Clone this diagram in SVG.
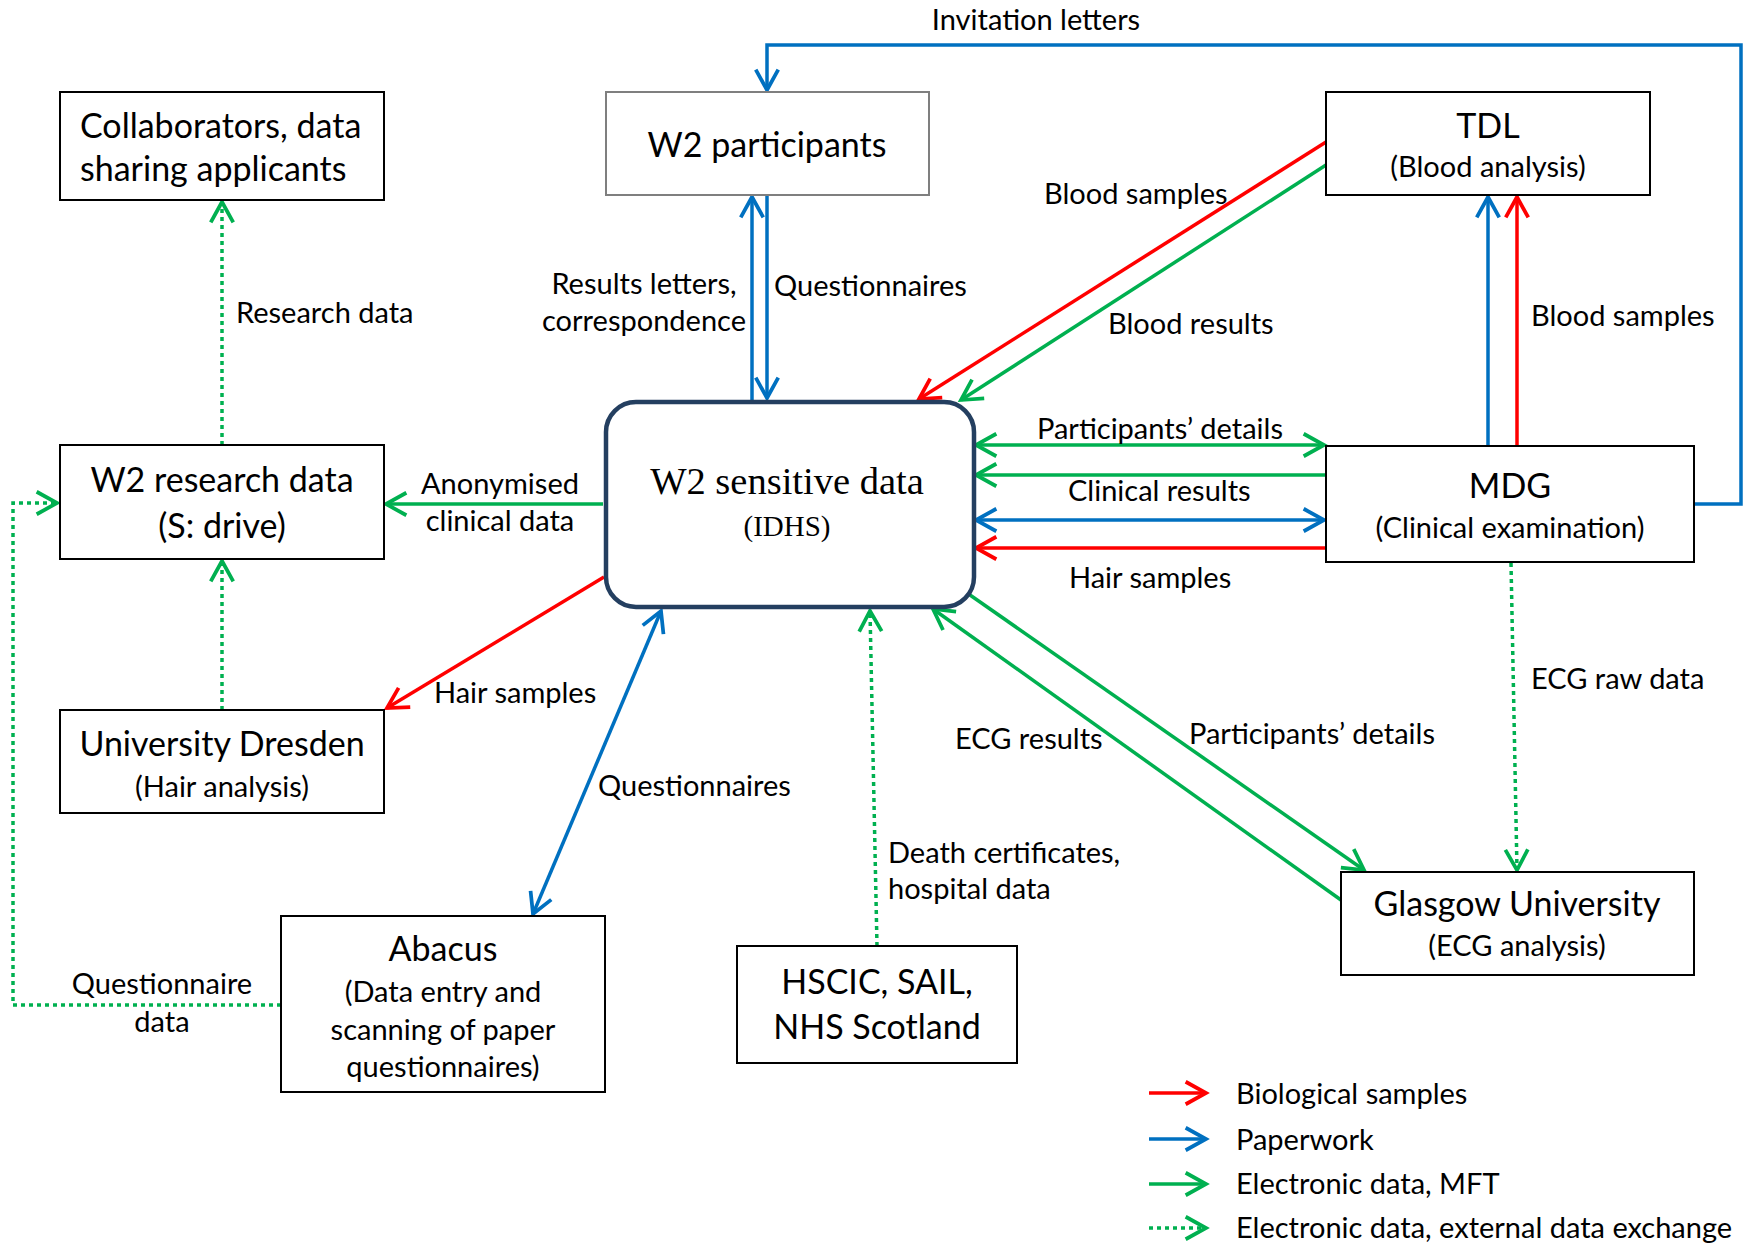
<svg xmlns="http://www.w3.org/2000/svg" width="1744" height="1244" viewBox="0 0 1744 1244">
<defs>
<style>
text{font-family:Lato,"Open Sans","Liberation Sans",sans-serif;fill:#000}
.lbl{font-size:29px}
.big{font-size:34px}
.sub{font-size:29px}
.mid{text-anchor:middle}
.serif{font-family:"Liberation Serif","DejaVu Serif",serif}
.box{fill:#fff;stroke:#000;stroke-width:2}
.c{fill:none;stroke-width:3.5}
.r{stroke:#ff0000}
.b{stroke:#0070c0}
.g{stroke:#00b050}
.d{stroke:#00b050;stroke-dasharray:4 4}
</style>
<marker id="aR" markerUnits="userSpaceOnUse" markerWidth="30" markerHeight="30" viewBox="-24 -14 28 28" refX="0" refY="0" orient="auto-start-reverse"><path d="M-19,-10.5 L0,0 L-19,10.5" fill="none" stroke="#ff0000" stroke-width="3.5"/></marker>
<marker id="aB" markerUnits="userSpaceOnUse" markerWidth="30" markerHeight="30" viewBox="-24 -14 28 28" refX="0" refY="0" orient="auto-start-reverse"><path d="M-19,-10.5 L0,0 L-19,10.5" fill="none" stroke="#0070c0" stroke-width="3.5"/></marker>
<marker id="aG" markerUnits="userSpaceOnUse" markerWidth="30" markerHeight="30" viewBox="-24 -14 28 28" refX="0" refY="0" orient="auto-start-reverse"><path d="M-19,-10.5 L0,0 L-19,10.5" fill="none" stroke="#00b050" stroke-width="3.5"/></marker>
</defs>
<rect width="1744" height="1244" fill="#fff"/>

<g id="connectors">
<path class="c b" d="M1694,504 H1741 V45 H767 V90" marker-end="url(#aB)"/>
<path class="c b" d="M752,400 V197" marker-end="url(#aB)"/>
<path class="c b" d="M767,195 V398" marker-end="url(#aB)"/>
<path class="c r" d="M1326,142 L919,399" marker-end="url(#aR)"/>
<path class="c g" d="M1326,165 L961,400" marker-end="url(#aG)"/>
<path class="c g" d="M976,445 H1324" marker-start="url(#aG)" marker-end="url(#aG)"/>
<path class="c g" d="M1326,475 H976" marker-end="url(#aG)"/>
<path class="c b" d="M976,520 H1324" marker-start="url(#aB)" marker-end="url(#aB)"/>
<path class="c r" d="M1326,548 H976" marker-end="url(#aR)"/>
<path class="c b" d="M1488,445 V197" marker-end="url(#aB)"/>
<path class="c r" d="M1517,445 V197" marker-end="url(#aR)"/>
<path class="c d" d="M1511,563 L1517,870" marker-end="url(#aG)"/>
<path class="c g" d="M970,595 L1364,870" marker-end="url(#aG)"/>
<path class="c g" d="M1341,900 L933,609" marker-end="url(#aG)"/>
<path class="c d" d="M877,946 L870,611" marker-end="url(#aG)"/>
<path class="c b" d="M661,611 L533,914" marker-start="url(#aB)" marker-end="url(#aB)"/>
<path class="c r" d="M604,577 L387,708" marker-end="url(#aR)"/>
<path class="c g" d="M603,504 H386" marker-end="url(#aG)"/>
<path class="c d" d="M222,445 V202" marker-end="url(#aG)"/>
<path class="c d" d="M222,710 V561" marker-end="url(#aG)"/>
<path class="c d" d="M281,1005 H13 V503 H57" marker-end="url(#aG)"/>
</g>

<g id="labels">
<text class="lbl mid" x="1036" y="30">Invitation letters</text>
<text class="lbl mid" x="644" y="294">Results letters,</text>
<text class="lbl mid" x="644" y="331">correspondence</text>
<text class="lbl" x="774" y="296">Questionnaires</text>
<text class="lbl" x="236" y="323">Research data</text>
<text class="lbl" x="1044" y="204">Blood samples</text>
<text class="lbl" x="1108" y="334">Blood results</text>
<text class="lbl" x="1531" y="326">Blood samples</text>
<text class="lbl" x="1037" y="439">Participants’ details</text>
<text class="lbl" x="1068" y="501">Clinical results</text>
<text class="lbl" x="1069" y="588">Hair samples</text>
<text class="lbl mid" x="500" y="494">Anonymised</text>
<text class="lbl mid" x="500" y="531">clinical data</text>
<text class="lbl" x="434" y="703">Hair samples</text>
<text class="lbl" x="598" y="796">Questionnaires</text>
<text class="lbl" x="955" y="749">ECG results</text>
<text class="lbl" x="1189" y="744">Participants’ details</text>
<text class="lbl" x="1531" y="689">ECG raw data</text>
<text class="lbl" x="888" y="863">Death certificates,</text>
<text class="lbl" x="888" y="899">hospital data</text>
<text class="lbl mid" x="162" y="994">Questionnaire</text>
<text class="lbl mid" x="162" y="1032">data</text>
</g>

<g id="collaborators">
<rect class="box" x="60" y="92" width="324" height="108"/>
<text class="big" x="80" y="138">Collaborators, data</text>
<text class="big" x="80" y="181">sharing applicants</text>
</g>
<g id="w2-participants">
<rect class="box" x="606" y="92" width="323" height="103" style="stroke:#7f7f7f"/>
<text class="big mid" x="767" y="157">W2 participants</text>
</g>
<g id="tdl">
<rect class="box" x="1326" y="92" width="324" height="103"/>
<text class="big mid" x="1488" y="138">TDL</text>
<text class="sub mid" x="1488" y="177">(Blood analysis)</text>
</g>
<g id="w2-research">
<rect class="box" x="60" y="445" width="324" height="114"/>
<text class="big mid" x="222" y="492">W2 research data</text>
<text class="big mid" x="222" y="538">(S: drive)</text>
</g>
<g id="w2-sensitive">
<rect x="606" y="402" width="368" height="205" rx="30" ry="30" fill="#fff" stroke="#243f60" stroke-width="4.5"/>
<text class="serif mid" x="787" y="494" style="font-size:38.5px">W2 sensitive data</text>
<text class="serif mid" x="787" y="536" style="font-size:29px">(IDHS)</text>
</g>
<g id="mdg">
<rect class="box" x="1326" y="446" width="368" height="116"/>
<text class="big mid" x="1510" y="498">MDG</text>
<text class="sub mid" x="1510" y="538">(Clinical examination)</text>
</g>
<g id="dresden">
<rect class="box" x="60" y="710" width="324" height="103"/>
<text class="big mid" x="222" y="756">University Dresden</text>
<text class="sub mid" x="222" y="797">(Hair analysis)</text>
</g>
<g id="abacus">
<rect class="box" x="281" y="916" width="324" height="176"/>
<text class="big mid" x="443" y="961">Abacus</text>
<text class="sub mid" x="443" y="1002">(Data entry and</text>
<text class="sub mid" x="443" y="1040">scanning of paper</text>
<text class="sub mid" x="443" y="1077">questionnaires)</text>
</g>
<g id="hscic">
<rect class="box" x="737" y="946" width="280" height="117"/>
<text class="big mid" x="877" y="994">HSCIC, SAIL,</text>
<text class="big mid" x="877" y="1039">NHS Scotland</text>
</g>
<g id="glasgow">
<rect class="box" x="1341" y="872" width="353" height="103"/>
<text class="big mid" x="1517" y="916">Glasgow University</text>
<text class="sub mid" x="1517" y="956">(ECG analysis)</text>
</g>

<g id="legend">
<path class="c r" d="M1149,1093 H1206" marker-end="url(#aR)"/>
<path class="c b" d="M1149,1139 H1206" marker-end="url(#aB)"/>
<path class="c g" d="M1149,1184 H1206" marker-end="url(#aG)"/>
<path class="c d" d="M1149,1228 H1206" marker-end="url(#aG)"/>
<text class="lbl" x="1236" y="1104">Biological samples</text>
<text class="lbl" x="1236" y="1150">Paperwork</text>
<text class="lbl" x="1236" y="1194">Electronic data, MFT</text>
<text class="lbl" x="1236" y="1238">Electronic data, external data exchange</text>
</g>
</svg>
